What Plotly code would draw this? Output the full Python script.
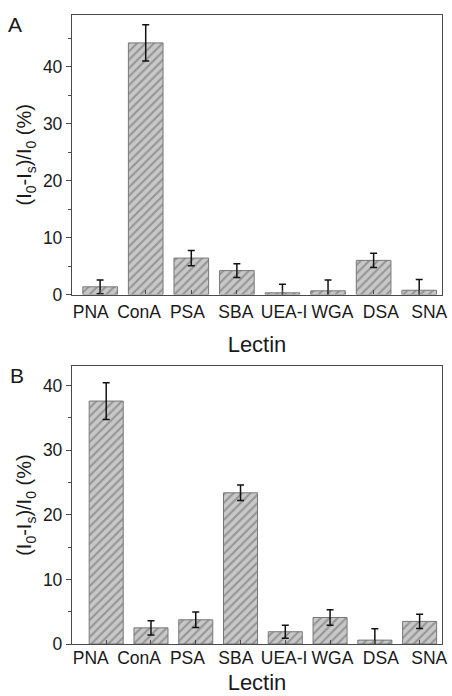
import plotly.graph_objects as go

lectins = ["PNA", "ConA", "PSA", "SBA", "UEA-I", "WGA", "DSA", "SNA"]
values_a = [1.35, 44.2, 6.4, 4.2, 0.3, 0.65, 6.0, 0.75]
errors_a = [1.2, 3.2, 1.35, 1.2, 1.5, 1.9, 1.25, 1.9]
values_b = [37.6, 2.5, 3.75, 23.4, 1.9, 4.1, 0.6, 3.5]
errors_b = [2.85, 1.1, 1.2, 1.2, 1.0, 1.2, 1.75, 1.1]
y_ticks = [0, 10, 20, 30, 40]

positions = list(range(len(lectins)))
FONT = "Liberation Sans, Arial, sans-serif"
TXT = "#1a1a1a"
AX = "#4a4a4a"

fig = go.Figure()


def add_bars(vals, errs, xa, ya):
    fig.add_trace(go.Bar(
        x=positions, y=vals, xaxis=xa, yaxis=ya, width=0.76,
        marker=dict(color="#c8c8c8",
                    line=dict(color="#777777", width=1),
                    pattern=dict(shape="/", fgcolor="#606060", bgcolor="#c8c8c8",
                                 size=6, solidity=0.34)),
        error_y=dict(type="data", array=errs, visible=True, color="#111111",
                     thickness=1.5, width=3.5),
        showlegend=False,
    ))


add_bars(values_a, errors_a, "x", "y")
add_bars(values_b, errors_b, "x2", "y2")

# invisible helper traces so the label axes render
fig.add_trace(go.Scatter(x=positions, y=[None] * 8, xaxis="x3", yaxis="y",
                         showlegend=False, hoverinfo="skip"))
fig.add_trace(go.Scatter(x=positions, y=[None] * 8, xaxis="x4", yaxis="y2",
                         showlegend=False, hoverinfo="skip"))

ytitle = "(I<sub>0</sub>-I<sub>s</sub>)/I<sub>0</sub> (%)"

common_bar_x = dict(showline=True, linecolor=AX, linewidth=1.3, mirror=True,
                    ticks="inside", ticklen=4, tickcolor=AX, tickvals=positions,
                    showticklabels=False, showgrid=False, zeroline=False)
common_lbl_x = dict(tickvals=positions, ticktext=lectins, showgrid=False,
                    zeroline=False, showline=False, ticks="",
                    tickfont=dict(size=17.5, color=TXT, family=FONT),
                    ticklabeloverflow="allow",
                    range=[-0.388, 7.265], side="bottom")
common_y = dict(showline=True, linecolor=AX, linewidth=1.3, mirror=True,
                ticks="outside", ticklen=5, tickcolor=AX, tickvals=y_ticks,
                tickfont=dict(size=17.5, color=TXT, family=FONT),
                showgrid=False, zeroline=False,
                minor=dict(ticks="outside", ticklen=3, tickcolor=AX, dtick=5),
                title=dict(text=ytitle, font=dict(size=20, color=TXT, family=FONT),
                           standoff=5))

fig.update_layout(
    width=452, height=696,
    margin=dict(l=72, r=5, t=15, b=51),
    paper_bgcolor="white", plot_bgcolor="white",
    font=dict(family=FONT, color=TXT),
    xaxis=dict(domain=[0, 1], anchor="y", range=[-0.617, 7.5], **common_bar_x),
    yaxis=dict(domain=[0.5556, 1.0], anchor="x", range=[0, 49.1], **common_y),
    xaxis2=dict(domain=[0, 1], anchor="y2", range=[-0.764, 7.5], **common_bar_x),
    yaxis2=dict(domain=[0.0, 0.4417], anchor="x2", range=[0, 43.0], **common_y),
    xaxis3=dict(overlaying="x", anchor="y", ticklabelstandoff=5,
                title=dict(text="Lectin", font=dict(size=22, color=TXT, family=FONT),
                           standoff=15),
                **common_lbl_x),
    xaxis4=dict(overlaying="x2", anchor="y2", ticklabelstandoff=1,
                title=dict(text="Lectin", font=dict(size=22, color=TXT, family=FONT),
                           standoff=8),
                **common_lbl_x),
    annotations=[
        dict(text="A", xref="paper", yref="paper", x=-72 / 375 + 5 / 375,
             y=(645 - 25) / 630, xanchor="left", yanchor="middle", showarrow=False,
             font=dict(size=21, color=TXT, family=FONT)),
        dict(text="B", xref="paper", yref="paper", x=-72 / 375 + 7 / 375,
             y=(645 - 376) / 630, xanchor="left", yanchor="middle", showarrow=False,
             font=dict(size=21, color=TXT, family=FONT)),
    ],
)

fig.write_html(
    "out.html",
    config={"displayModeBar": False},
    post_script="document.body.style.margin='0';document.body.style.overflow='hidden';",
)
